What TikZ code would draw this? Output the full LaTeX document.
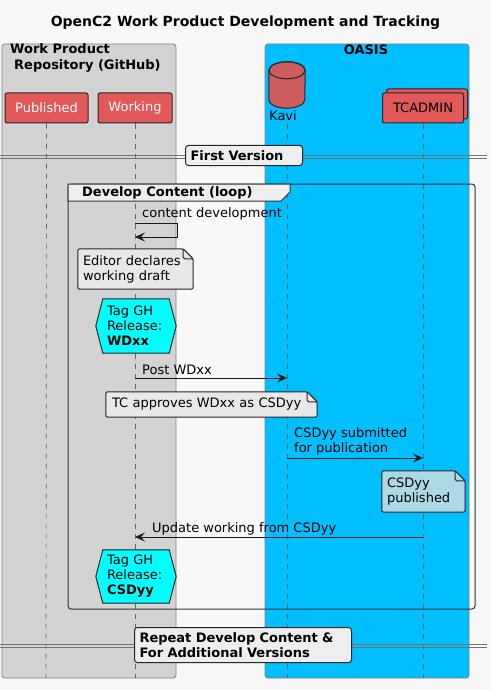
\documentclass[tikz,border=0pt]{standalone}
\usepackage{fontspec}
\setmainfont{DejaVu Sans}
\usetikzlibrary{arrows.meta,calc}

\definecolor{bgcolor}{HTML}{F8F8F8}
\definecolor{boxgray}{HTML}{D3D3D3}
\definecolor{oasisblue}{HTML}{00BFFF}
\definecolor{actorred}{HTML}{E35858}
\definecolor{kavired}{HTML}{CD5C5C}
\definecolor{notegray}{HTML}{E8E8E8}
\definecolor{noteblue}{HTML}{ADD8E6}
\definecolor{divgray}{HTML}{EEEEEE}
\definecolor{tagcyan}{HTML}{00FFFF}

\pgfdeclarelayer{base}
\pgfdeclarelayer{shapes}
\pgfsetlayers{base,shapes,main}

\begin{document}
\begin{tikzpicture}[x=1pt,y=-1pt,
	every node/.style = {font=\fontsize{13}{15}\selectfont, inner sep=0pt},
	actor/.style = {draw=black!85, fill=actorred, rounded corners=2pt, line width=1pt, minimum height=30pt},
	lifeline/.style = {draw=black!60, dash pattern=on 5pt off 5pt, line width=0.7pt},
	msg/.style = {draw=black!90, line width=1pt, -{Stealth[length=10pt,width=9pt,inset=4pt]}},
	note/.style = {draw=black!85, line width=1pt, rounded corners=1.5pt},
	divider/.style = {draw=black!85, fill=divgray, rounded corners=3pt, line width=1pt, inner sep=5pt, align=left, font=\bfseries\fontsize{13}{15}\selectfont},
	box/.style = {draw=black!50, rounded corners=3pt, line width=0.8pt},
	boxtitle/.style = {font=\bfseries\fontsize{13}{16}\selectfont, align=left}]
	\useasboundingbox (0,0) rectangle (491,690);

	\node[font=\bfseries\fontsize{14}{16}\selectfont] (title) at (245.5,23) {OpenC2 Work Product Development and Tracking};

	% participants
	\node[actor, minimum width=83pt, text=white] (published) at (46.5,108) {Published};
	\node[actor, minimum width=74pt, text=white] (working) at (135,108) {Working};
	\node[minimum width=36pt, minimum height=46pt] (kavi) at (287,85) {};
	\node[anchor=west] (kavilabel) at (269,116) {Kavi};
	\node[actor, minimum width=81pt] (tcback) at (427,104) {};
	\node[actor, minimum width=81pt] (tcadmin) at (423,108) {TCADMIN};

	% database shape
	\filldraw[draw=black!85, fill=kavired, line width=1pt]
		($(kavi.north west)+(0,8.5)$) -- ($(kavi.south west)+(0,-8.5)$)
		arc[start angle=180, end angle=0, x radius=18, y radius=8.5]
		-- ($(kavi.north east)+(0,8.5)$)
		arc[start angle=0, end angle=-180, x radius=18, y radius=8.5];
	\draw[draw=black!85, line width=1pt] ($(kavi.north)+(0,8.5)$) ellipse[x radius=18, y radius=8.5];

	\node[boxtitle, anchor=north west] (githubtitle) at (10,43) {Work Product\\\hspace{4pt}Repository (GitHub)};
	\node[boxtitle] (oasistitle) at (366,50) {OASIS};

	\coordinate (published-end) at (46,678);
	\coordinate (working-end) at (135,678);
	\coordinate (kavi-top) at (287,124);
	\coordinate (kavi-end) at (287,678);
	\coordinate (tcadmin-end) at (423,678);

	\begin{pgfonlayer}{base}
		\fill[bgcolor] (0,0) rectangle (491,690);
		\draw[box, fill=boxgray] (2,44) rectangle (176,678);
		\draw[box, fill=oasisblue] (265,44) rectangle (469,678);

		\draw[lifeline] (published.south) -- (published-end);
		\draw[lifeline] (working.south) -- (working-end);
		\draw[lifeline] (kavi-top) -- (kavi-end);
		\draw[lifeline] (tcadmin.south) -- (tcadmin-end);

		% dividers
		\foreach \y in {155,158,644,647}
			\draw[draw=black!55, line width=0.8pt] (0,\y) -- (487,\y);

		% loop frame
		\draw[draw=black!80, line width=1pt, rounded corners=3pt] (68,184) rectangle (475,609);
		\filldraw[fill=divgray, draw=black!80, line width=1pt] (68,184) -- (290,184) -- (290,192) -- (281,201) -- (68,201) -- cycle;
	\end{pgfonlayer}

	\node[divider, anchor=west, text width=107pt] (firstversion) at (185,155.5) {First Version};
	\node[anchor=west, font=\bfseries\fontsize{13}{15}\selectfont] (looplabel) at (82,192.5) {Develop Content (loop)};

	% self message
	\draw[msg] (working |- 0,223) -- ++(42,0) -- ++(0,14) -- ++(-42,0);
	\node[anchor=west] (devlabel) at (142,214) {content development};

	\node[minimum width=115pt, minimum height=40pt, text width=105pt, align=left] (draftnote) at (135.5,269) {Editor declares\\working draft};

	\node[minimum width=80pt, minimum height=54pt, text width=58pt, align=left] (tagwd) at (136,326) {Tag GH\\Release:\\\textbf{WDxx}};

	\draw[msg] (working |- 0,378) -- (kavi |- 0,378);
	\node[anchor=west] (postlabel) at (142,370) {Post WDxx};

	\node[minimum width=211pt, minimum height=25pt, text width=199pt, align=left] (approvenote) at (211.5,404.5) {TC approves WDxx as CSDyy};

	\draw[msg] (kavi |- 0,458) -- (tcadmin |- 0,458);
	\node[anchor=north west, align=left] (submitlabel) at (294,427) {CSDyy submitted\\for publication};

	\node[minimum width=83pt, minimum height=41pt, text width=73pt, align=left] (publishnote) at (423.5,491.5) {CSDyy\\published};

	\draw[msg] (tcadmin |- 0,537) -- (working |- 0,537);
	\node[anchor=west] (updatelabel) at (152,529) {Update working from CSDyy};

	\node[minimum width=80pt, minimum height=53pt, text width=58pt, align=left] (tagcsd) at (136,576.5) {Tag GH\\Release:\\\textbf{CSDyy}};

	\node[divider, anchor=north west, text width=207pt] (repeat) at (134,627) {Repeat Develop Content \&\\For Additional Versions};

	% note and tag outlines
	\begin{pgfonlayer}{shapes}
		\foreach \n/\c in {draftnote/notegray, approvenote/notegray, publishnote/noteblue} {
			\filldraw[note, fill=\c] (\n.north west) -- ($(\n.north east)+(-10,0)$) -- ($(\n.north east)+(0,10)$)
				-- (\n.south east) -- (\n.south west) -- cycle;
			\draw[note] ($(\n.north east)+(-10,0)$) -- ++(0,10) -- ++(10,0);
		}
		\foreach \n in {tagwd, tagcsd}
			\filldraw[draw=black!85, fill=tagcyan, line width=1pt] (\n.west) -- ($(\n.north west)+(7,0)$)
				-- ($(\n.north east)+(-7,0)$) -- (\n.east) -- ($(\n.south east)+(-7,0)$) -- ($(\n.south west)+(7,0)$) -- cycle;
	\end{pgfonlayer}
\end{tikzpicture}
\end{document}
